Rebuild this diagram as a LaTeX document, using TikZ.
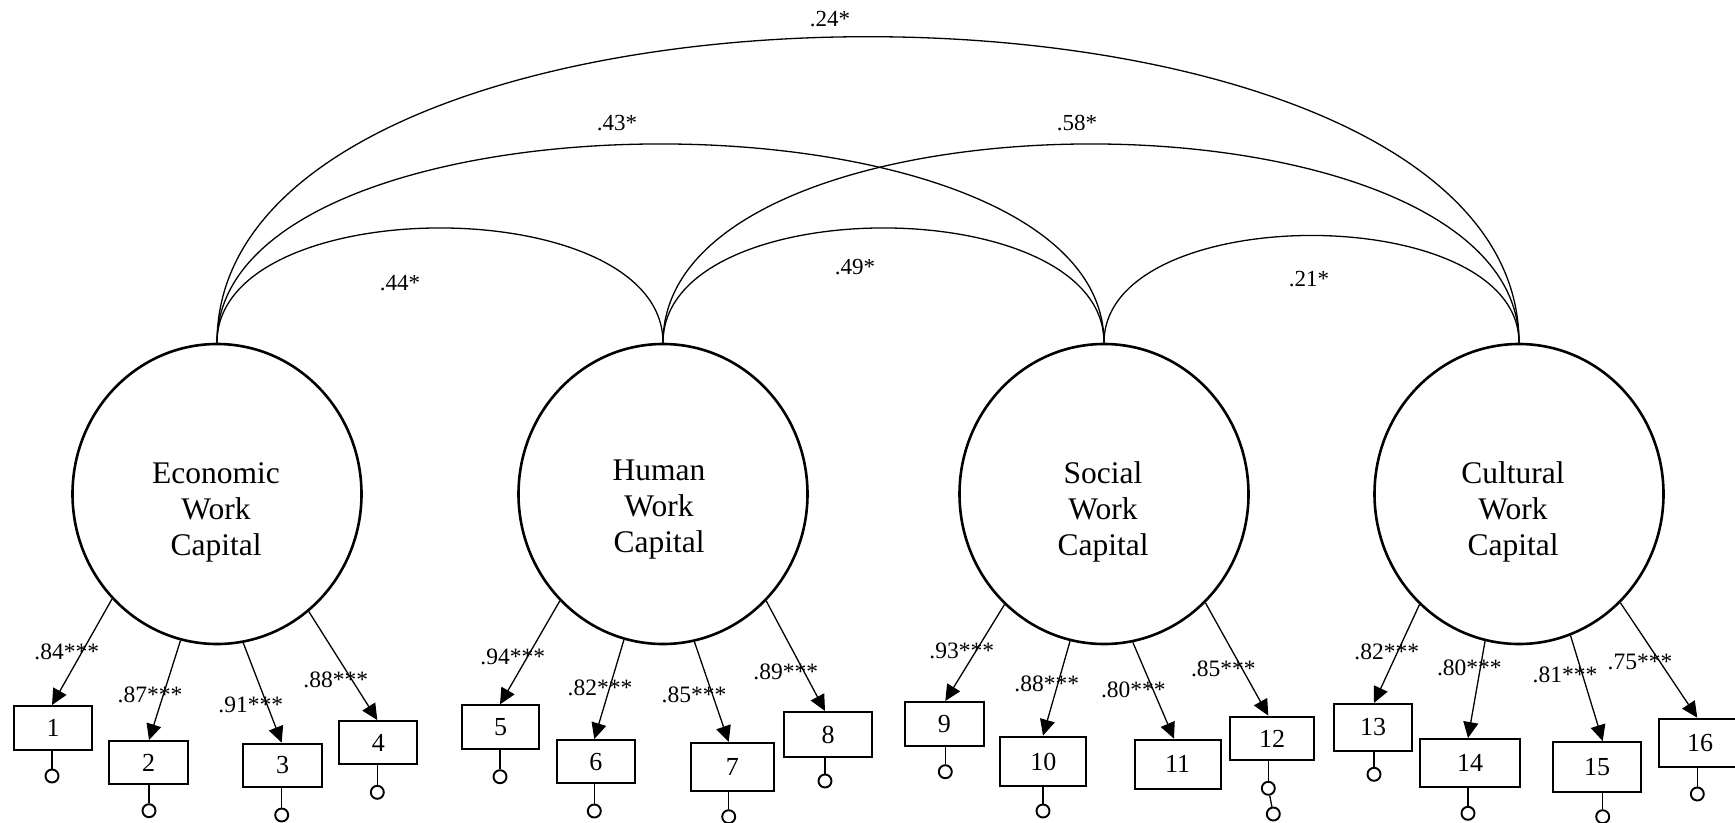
\documentclass[tikz,border=0pt]{standalone}
\usepackage{fontspec}
\setmainfont{Liberation Serif}
\usetikzlibrary{shapes.geometric,arrows.meta,calc}
\begin{document}
\begin{tikzpicture}[x=1pt,y=-1pt,
  latent/.style={draw, ellipse, line width=2.6pt, minimum width=289pt, minimum height=300pt, inner sep=0pt},
  lattext/.style={align=center, font=\fontsize{31.5}{36}\selectfont, inner sep=0pt},
  obs/.style={draw, rectangle, line width=2pt, inner sep=0pt, font=\fontsize{26}{30}\selectfont},
  err/.style={draw, circle, line width=1.9pt, minimum size=13pt, inner sep=0pt},
  load/.style={line width=1.3pt, -{Triangle[length=16pt,width=15pt]}},
  cov/.style={line width=1.3pt},
  lbl/.style={font=\fontsize{23.5}{26}\selectfont, inner sep=0pt},
  clbl/.style={font=\fontsize{23}{26}\selectfont, inner sep=0pt},
]
\useasboundingbox (0,0) rectangle (1735,822);

% latent variables
\node[latent] (E) at (217,494) {};
\node[latent] (H) at (663,494) {};
\node[latent] (S) at (1104,494) {};
\node[latent] (C) at (1519,494) {};
\node[lattext] (Et) at (216,512.5) {Economic\\Work\\Capital};
\node[lattext] (Ht) at (659,509.5) {Human\\Work\\Capital};
\node[lattext] (St) at (1103,511.5) {Social\\Work\\Capital};
\node[lattext] (Ct) at (1513,511.5) {Cultural\\Work\\Capital};

% covariances
\draw[cov] (E.north) .. controls +(0,-153) and +(0,-153) .. (H.north);
\draw[cov] (H.north) .. controls +(0,-153) and +(0,-153) .. (S.north);
\draw[cov] (S.north) .. controls +(0,-143) and +(0,-143) .. (C.north);
\draw[cov] (E.north) .. controls +(0,-265) and +(0,-265) .. (S.north);
\draw[cov] (H.north) .. controls +(0,-265) and +(0,-265) .. (C.north);
\draw[cov] (E.north) .. controls +(0,-408) and +(0,-408) .. (C.north);
\node[clbl] (c1) at (400,283) {.44*};
\node[clbl] (c2) at (855,267) {.49*};
\node[clbl] (c3) at (1309,279.5) {.21*};
\node[clbl] (c4) at (617,123) {.43*};
\node[clbl] (c5) at (1077,123) {.58*};
\node[clbl] (c6) at (830,19) {.24*};

% observed indicators
\node[obs, minimum width=78.3pt, minimum height=43.7pt] (b1) at (53.2,727.9) {1};
\node[obs, minimum width=78.3pt, minimum height=43.3pt] (b2) at (148.5,762.7) {2};
\node[obs, minimum width=78.3pt, minimum height=43.3pt] (b3) at (282.5,765.3) {3};
\node[obs, minimum width=78pt, minimum height=43.3pt] (b4) at (378.3,742.7) {4};
\node[obs, minimum width=77.7pt, minimum height=43.3pt] (b5) at (500.5,727) {5};
\node[obs, minimum width=78.3pt, minimum height=43.3pt] (b6) at (595.8,761.7) {6};
\node[obs, minimum width=83.3pt, minimum height=47.7pt] (b7) at (732.3,766.8) {7};
\node[obs, minimum width=87.7pt, minimum height=45pt] (b8) at (828.2,734.5) {8};
\node[obs, minimum width=78.7pt, minimum height=43.7pt] (b9) at (944.3,723.8) {9};
\node[obs, minimum width=86pt, minimum height=49.7pt] (b10) at (1043.3,761.5) {10};
\node[obs, minimum width=86pt, minimum height=49.3pt] (b11) at (1177.7,764.3) {11};
\node[obs, minimum width=83.3pt, minimum height=43.7pt] (b12) at (1272,738.5) {12};
\node[obs, minimum width=78.3pt, minimum height=46.7pt] (b13) at (1373.2,727.3) {13};
\node[obs, minimum width=100.3pt, minimum height=48.3pt] (b14) at (1470.2,763.2) {14};
\node[obs, minimum width=88.7pt, minimum height=50.3pt] (b15) at (1597,767.2) {15};
\node[obs, minimum width=82pt, minimum height=48pt] (b16) at (1700,742.7) {16};

% error terms
\node[err] (e1) at (52,776) {};
\node[err] (e2) at (149,810.7) {};
\node[err] (e3) at (281.7,815) {};
\node[err] (e4) at (377.3,792.3) {};
\node[err] (e5) at (500,776.7) {};
\node[err] (e6) at (594.3,811) {};
\node[err] (e7) at (728.7,816.7) {};
\node[err] (e8) at (825,781) {};
\node[err] (e9) at (945.3,771.7) {};
\node[err] (e10) at (1043,811) {};
\node[err] (e12) at (1268.3,788.3) {};
\node[err] (e12b) at (1273.3,814) {};
\node[err] (e13) at (1374,774.3) {};
\node[err] (e14) at (1468,813.3) {};
\node[err] (e15) at (1602.7,816.7) {};
\node[err] (e16) at (1697.3,794) {};
\foreach \i in {1,2,3,4,5,6,7,8,9,10,12,13,14,15,16}{
  \draw[line width=1.3pt] (e\i) -- (e\i |- b\i.south);
}
\draw[line width=1.3pt] (e12) -- (e12b);

% loadings
\draw[load] (E.225.7) -- (b1.north -| e1);
\draw[load] (E.256.2) -- (b2.north -| e2);
\draw[load] (E.280.9) -- (b3.north -| e3);
\draw[load] (E.308.8) -- (b4.north -| e4);
\draw[load] (H.226.4) -- (b5.north -| e5);
\draw[load] (H.255.8) -- (b6.north -| e6);
\draw[load] (H.282) -- (b7.north -| e7);
\draw[load] (H.314) -- (b8.north -| e8);
\draw[load] (S.228.3) -- (b9.north -| e9);
\draw[load] (S.257.2) -- (b10.north -| e10);
\draw[load] (S.281.9) -- ($(b11.north)+(-3.7,0)$);
\draw[load] (S.313.7) -- (b12.north -| e12);
\draw[load] (C.228) -- (b13.north -| e13);
\draw[load] (C.257.8) -- (b14.north -| e14);
\draw[load] (C.290.7) -- (b15.north -| e15);
\draw[load] (C.313.6) -- (b16.north -| e16);

\node[lbl] (l1) at (66.7,651.7) {.84***};
\node[lbl] (l2) at (150,695) {.87***};
\node[lbl] (l3) at (250.7,705) {.91***};
\node[lbl] (l4) at (335.7,680) {.88***};
\node[lbl] (l5) at (512.7,657.3) {.94***};
\node[lbl] (l6) at (600,688.3) {.82***};
\node[lbl] (l7) at (694,695) {.85***};
\node[lbl] (l8) at (785.7,671.7) {.89***};
\node[lbl] (l9) at (961.7,650.7) {.93***};
\node[lbl] (l10) at (1046.7,684) {.88***};
\node[lbl] (l11) at (1133.3,690) {.80***};
\node[lbl] (l12) at (1223.3,669.3) {.85***};
\node[lbl] (l13) at (1386.7,651.7) {.82***};
\node[lbl] (l14) at (1469.3,668.3) {.80***};
\node[lbl] (l15) at (1565,675) {.81***};
\node[lbl] (l16) at (1640,661.7) {.75***};
\end{tikzpicture}
\end{document}
